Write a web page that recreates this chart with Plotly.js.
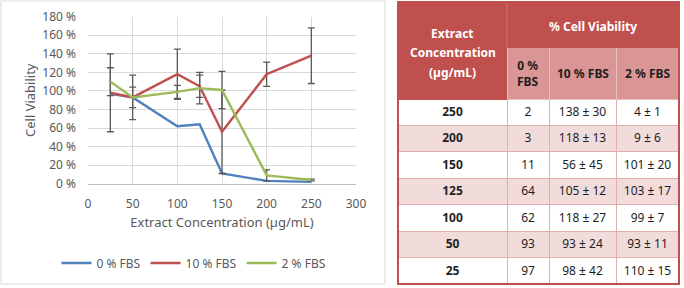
<!DOCTYPE html>
<html>
<head>
<meta charset="utf-8">
<script src="https://cdn.plot.ly/plotly-3.0.1.min.js"></script>
<style>
  html, body { margin: 0; padding: 0; background: #ffffff; }
  #chart { width: 684px; height: 288px; }
</style>
</head>
<body>
<div id="chart"></div>
<script>
// Extract concentrations (µg/mL)
const concentration = [25, 50, 100, 125, 150, 200, 250];

// % cell viability for each FBS level
const fbs0 = [97, 93, 62, 64, 11, 3, 2];
const fbs10 = [98, 93, 118, 105, 56, 118, 138];
const fbs10Sd = [42, 24, 27, 12, 45, 13, 30];
const fbs2 = [110, 93, 99, 103, 101, 9, 4];
const fbs2Sd = [15, 11, 7, 17, 20, 6, 1];

// Series names
const seriesNames = ['0 % FBS', '10 % FBS', '2 % FBS'];

// Axis titles
const xTitle = 'Extract Concentration (µg/mL)';
const yTitle = 'Cell Viability';

// Table header texts
const headerConcLines = ['Extract', 'Concentration', '(µg/mL)'];
const headerGroup = '% Cell Viability';
const headerCols = ['0 %<br>FBS', '10 % FBS', '2 % FBS'];

const W = 684, H = 288;
const FONT = 'Noto Sans, sans-serif';
const BLUE = '#4F81BD', RED = '#C0504D', GREEN = '#9BBB59';
const ERR = '#5A5A5A';
const T_RED = '#C0504D', T_PINK = '#D99694', T_PALE = '#F2DCDB';
const T_LINE = '#E2AFAD', T_HEAD_LINE = '#E8BFBE';
const NBSP = '\u00a0';

// pixel -> paper fraction helpers
const px = v => v / W;
const py = v => 1 - v / H;

const errStyle = { color: ERR, thickness: 1.3, width: 3.5 };

const traces = [
  {
    type: 'scatter', mode: 'lines', name: seriesNames[0],
    x: concentration, y: fbs0,
    line: { color: BLUE, width: 2.4 }
  },
  {
    type: 'scatter', mode: 'lines', name: seriesNames[1],
    x: concentration, y: fbs10,
    line: { color: RED, width: 2.4 },
    error_y: Object.assign({ type: 'data', array: fbs10Sd, visible: true }, errStyle)
  },
  {
    type: 'scatter', mode: 'lines', name: seriesNames[2],
    x: concentration, y: fbs2,
    line: { color: GREEN, width: 2.4 },
    error_y: Object.assign({ type: 'data', array: fbs2Sd, visible: true }, errStyle)
  }
];

// Table body, highest concentration first (non-breaking spaces keep "mean ± sd" on one line)
const order = concentration.map((_, i) => i).reverse();
const pm = (m, s) => m + NBSP + '±' + NBSP + s;
const colConc = order.map(i => String(concentration[i]));
const col0 = order.map(i => String(fbs0[i]));
const col10 = order.map(i => pm(fbs10[i], fbs10Sd[i]));
const col2 = order.map(i => pm(fbs2[i], fbs2Sd[i]));
const rowFill = order.map((_, r) => (r % 2 === 0 ? '#FFFFFF' : T_PALE));

// table geometry (px)
const TX0 = 398, TX1 = 679, TY0 = 2, TY1 = 284;
const HEAD_SPLIT = 48, HEAD_BOTTOM = 99;
const colWidths = [109, 42, 67, 63];
const colEdges = [TX0];
colWidths.forEach(w => colEdges.push(colEdges[colEdges.length - 1] + w));

traces.push({
  type: 'table',
  domain: { x: [px(TX0), px(TX1)], y: [py(286), py(TY0)] },
  columnwidth: colWidths,
  header: {
    values: ['', '', '', ''],
    height: HEAD_BOTTOM - TY0,
    fill: { color: [T_RED, T_PINK, T_PINK, T_PINK] },
    line: { color: [T_RED, T_HEAD_LINE, T_HEAD_LINE, T_HEAD_LINE], width: 1 }
  },
  cells: {
    values: [colConc, col0, col10, col2],
    height: (TY1 - HEAD_BOTTOM) / 7,
    align: 'center',
    fill: { color: [rowFill] },
    line: { color: T_LINE, width: 1 },
    font: { family: FONT, size: 12, color: '#1E1E1E', weight: ['bold', 'normal', 'normal', 'normal'] }
  }
});

const shapes = [
  // chart frame
  { type: 'rect', xref: 'paper', yref: 'paper', x0: px(1), x1: px(385), y0: py(284), y1: py(1),
    line: { color: '#D9D9D9', width: 1 }, fillcolor: 'rgba(0,0,0,0)', layer: 'below' },
  // merged group header over the FBS columns
  { type: 'rect', xref: 'paper', yref: 'paper', x0: px(colEdges[1]), x1: px(TX1), y0: py(HEAD_SPLIT), y1: py(TY0),
    line: { width: 0 }, fillcolor: T_RED, layer: 'above' },
  { type: 'line', xref: 'paper', yref: 'paper', x0: px(colEdges[1]), x1: px(colEdges[1]), y0: py(HEAD_SPLIT), y1: py(TY0),
    line: { color: '#D0716E', width: 1 }, layer: 'above' },
  // table outline
  { type: 'rect', xref: 'paper', yref: 'paper', x0: px(TX0), x1: px(TX1), y0: py(TY1), y1: py(TY0),
    line: { color: T_RED, width: 2 }, fillcolor: 'rgba(0,0,0,0)', layer: 'above' }
];

const annotations = [];
// y axis title, placed to the left of the tick labels
annotations.push({
  xref: 'paper', yref: 'paper', x: px(30), y: py(100),
  xanchor: 'center', yanchor: 'middle', showarrow: false, textangle: -90,
  text: yTitle, font: { family: FONT, size: 13, color: '#595959' }
});
const concCenter = (colEdges[0] + colEdges[1]) / 2;
headerConcLines.forEach((t, i) => {
  annotations.push({
    xref: 'paper', yref: 'paper', x: px(concCenter), y: py(33 + i * 19.5),
    xanchor: 'center', yanchor: 'middle', showarrow: false,
    text: '<b>' + t + '</b>', font: { family: FONT, size: 12, color: '#FFFFFF' }
  });
});
annotations.push({
  xref: 'paper', yref: 'paper', x: px((colEdges[1] + TX1) / 2), y: py(26),
  xanchor: 'center', yanchor: 'middle', showarrow: false,
  text: '<b>' + headerGroup + '</b>', font: { family: FONT, size: 12, color: '#FFFFFF' }
});
headerCols.forEach((t, i) => {
  annotations.push({
    xref: 'paper', yref: 'paper', x: px((colEdges[i + 1] + colEdges[i + 2]) / 2), y: py((HEAD_SPLIT + HEAD_BOTTOM) / 2),
    xanchor: 'center', yanchor: 'middle', showarrow: false,
    text: '<b>' + t + '</b>', font: { family: FONT, size: 12, color: '#1E1E1E' }
  });
});

const layout = {
  width: W, height: H,
  margin: { l: 0, r: 0, t: 0, b: 0, pad: 0 },
  paper_bgcolor: '#FFFFFF', plot_bgcolor: '#FFFFFF',
  font: { family: FONT, size: 12, color: '#595959' },
  showlegend: true,
  legend: {
    orientation: 'h', x: px(194), xanchor: 'center', y: py(263), yanchor: 'middle',
    font: { family: FONT, size: 12, color: '#595959' }, bgcolor: 'rgba(0,0,0,0)'
  },
  xaxis: {
    domain: [px(88), px(356)], range: [0, 300], tick0: 0, dtick: 50,
    showgrid: true, gridcolor: '#D9D9D9', gridwidth: 1, zeroline: false,
    showline: true, linecolor: '#BFBFBF', linewidth: 1, ticks: '',
    ticklabelstandoff: 9, automargin: false,
    tickfont: { size: 12, color: '#595959' },
    title: { text: xTitle, font: { size: 13, color: '#595959' }, standoff: 6 }
  },
  yaxis: {
    domain: [py(183.7), py(16.7)], range: [0, 180], tick0: 0, dtick: 20,
    ticksuffix: ' %', showgrid: true, gridcolor: '#D9D9D9', gridwidth: 1, zeroline: false,
    showline: false, ticks: '', ticklabelstandoff: 11, automargin: false,
    tickfont: { size: 12, color: '#595959' }
  },
  shapes: shapes,
  annotations: annotations
};

Plotly.newPlot('chart', traces, layout, { displayModeBar: false, staticPlot: true });
</script>
</body>
</html>
